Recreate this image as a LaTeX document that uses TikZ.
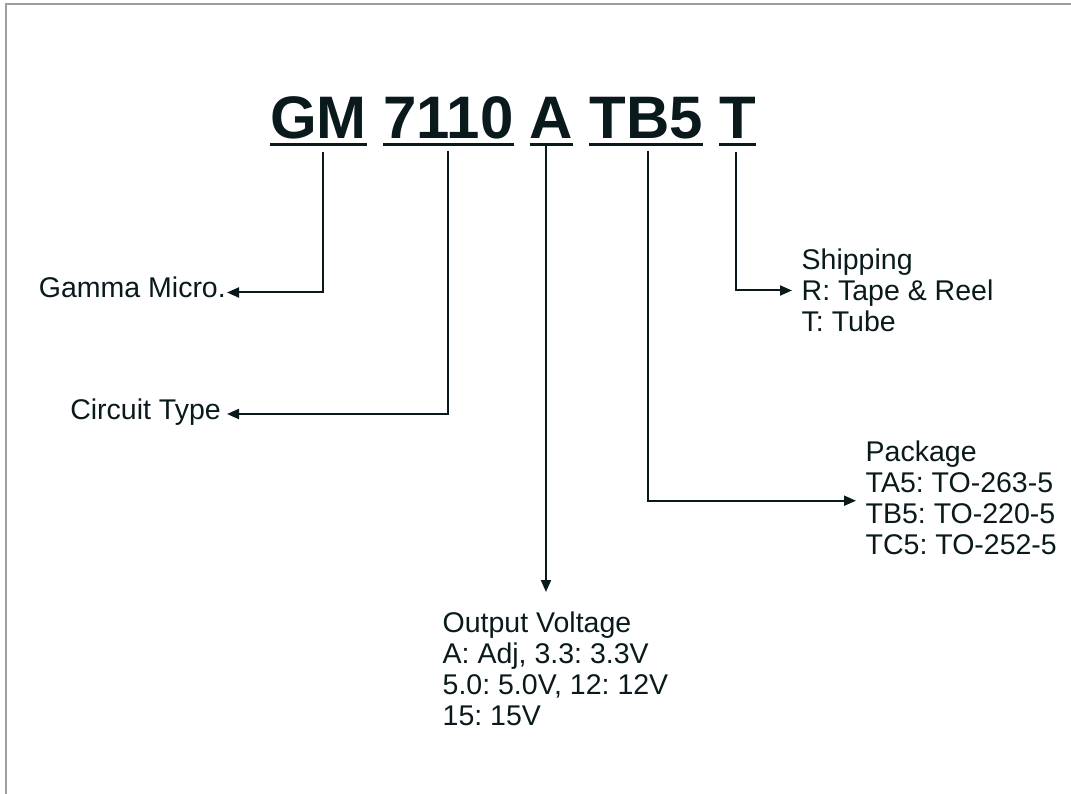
\documentclass[tikz,border=0pt]{standalone}
\usepackage{fontspec}
\setmainfont{Liberation Sans}
\usetikzlibrary{arrows.meta,positioning}

\definecolor{ink}{RGB}{10,26,28}
\definecolor{frame}{RGB}{158,158,158}

\frenchspacing

\tikzset{
  word/.style={inner sep=0pt, text=ink, font=\fontsize{60}{72}\selectfont\bfseries},
  uline/.style={draw=ink, line width=3pt},
  lead/.style={draw=ink, line width=2pt, -{Triangle[length=12pt,width=10pt]}},
  tag/.style={inner ysep=0pt, inner xsep=1pt, text=ink, text height=18pt, text depth=7pt,
    font=\fontsize{28.5}{31}\selectfont},
  info/.style={inner xsep=9.5pt, inner ysep=0pt, align=left, text=ink,
    font=\fontsize{28.5}{31}\selectfont}
}

\begin{document}
\begin{tikzpicture}[x=1pt,y=-1pt]

  \useasboundingbox (0,0) rectangle (1071,794);

  % Frame (top and left edges only)
  \draw[frame, line width=2pt] (6,800) -- (6,4) -- (1080,4);

  % Part number
  \def\gap{16pt}
  \node[word, anchor=base west] (gm) at (270,139) {GM};
  \node[word, base right=\gap of gm] (type) {7110};
  \node[word, base right=\gap of type] (vout) {A};
  \node[word, base right=\gap of vout] (pack) {TB5};
  \node[word, base right=\gap of pack] (ship) {T};

  % Underlines
  \foreach \w in {gm,type,vout,pack,ship}
    \draw[uline] ([yshift=-6pt]\w.base west) -- ([yshift=-6pt]\w.base east);

  % Labels
  \node[tag, anchor=east] (gm-lbl) at (227,292.5) {Gamma Micro.};
  \node[tag, anchor=east, inner xsep=6pt] (type-lbl) at (227,414) {Circuit Type};
  \node[info, anchor=north west] (vout-lbl) at (433,611.4)
    {Output Voltage\\A: Adj, 3.3: 3.3V\\5.0: 5.0V, 12: 12V\\15: 15V};
  \node[info, anchor=west] (pack-lbl) at (856,497.7)
    {Package\\TA5: TO-263-5\\TB5: TO-220-5\\TC5: TO-252-5};
  \node[info, anchor=west] (ship-lbl) at (792,290.5)
    {Shipping\\R: Tape \& Reel\\T: Tube};

  % Leaders
  \draw[lead] ([xshift=4.5pt,yshift=-12pt]gm.south) |- (gm-lbl.east);
  \draw[lead] ([yshift=-11pt]type.south) |- (type-lbl.east);
  \coordinate (vout-top) at ([xshift=-5.5pt,yshift=-7pt]vout.south);
  \draw[lead, shorten >=19.4pt] (vout-top) -- (vout-top |- vout-lbl.north);
  \draw[lead] ([xshift=1.3pt,yshift=-11pt]pack.south) |- ([yshift=-3pt]pack-lbl.west);
  \draw[lead] ([xshift=-1.8pt,yshift=-13pt]ship.south) |- (ship-lbl.west);

\end{tikzpicture}
\end{document}
